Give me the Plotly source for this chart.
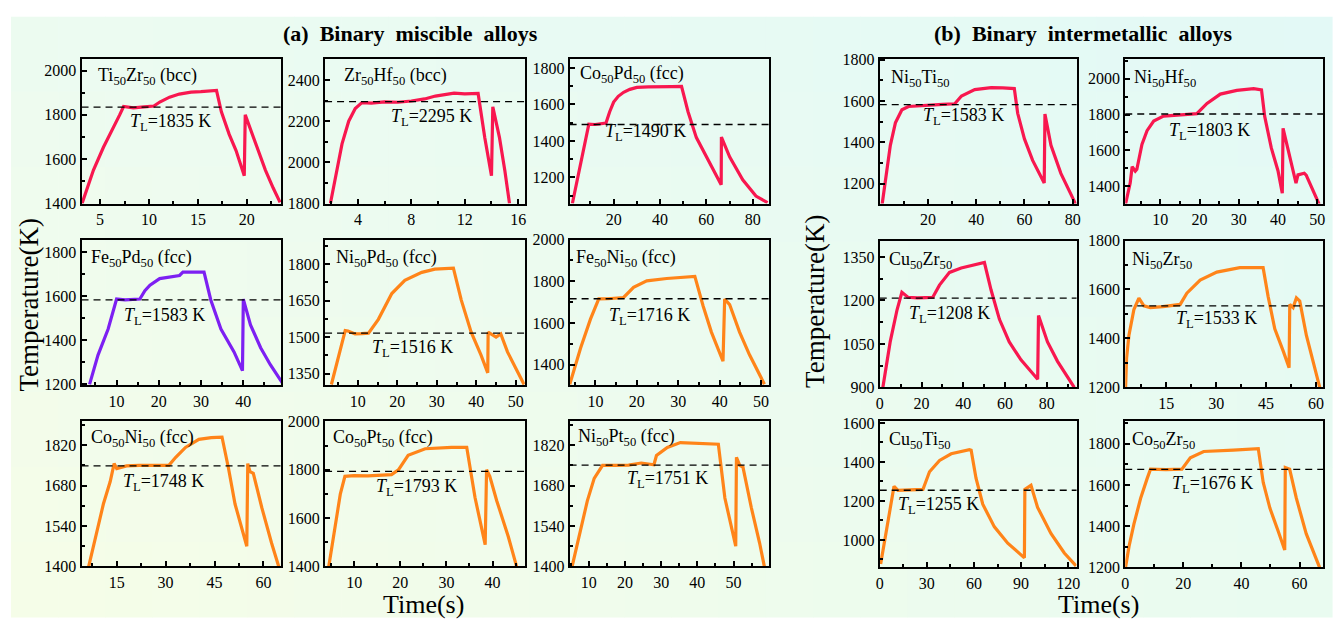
import plotly.graph_objects as go

W, H = 1336, 626
FONT = "Liberation Serif"
RED = "#f8174f"
PURPLE = "#7d20f2"
ORANGE = "#ff8419"

# ---------------- data (time in s, temperature in K) ----------------
t_TiZr = [3.15, 4.32, 5.34, 6.36, 7.0, 7.4, 8.4, 9.5, 10.5, 11.1, 12.1, 13.1, 14.3, 15.3, 16.3, 16.9, 17.4, 18.2, 18.9, 19.74, 19.84, 20.9, 21.9, 22.7, 23.4]
T_TiZr = [1400, 1551, 1654, 1741, 1800, 1838, 1832, 1836, 1840, 1858, 1880, 1894, 1903, 1905, 1906, 1910, 1814, 1712, 1639, 1525, 1800, 1668, 1551, 1470, 1405]

t_ZrHf = [1.94, 2.31, 2.81, 3.31, 3.8, 4.3, 5.0, 6.0, 7.0, 8.0, 9.0, 9.8, 10.5, 11.2, 12.0, 12.6, 13.0, 13.5, 14.0, 14.1, 14.6, 15.0, 15.35]
T_ZrHf = [1800, 1932, 2090, 2200, 2262, 2290, 2288, 2294, 2292, 2298, 2308, 2322, 2330, 2336, 2333, 2336, 2335, 2120, 1935, 2270, 2120, 1960, 1800]

t_CoPd = [2.2, 5.0, 9.3, 12, 14.5, 16.7, 18.3, 20, 22, 24.3, 27, 30, 35, 40, 45, 49.3, 52.1, 55.7, 60, 63, 66.4, 66.5, 70.1, 75.7, 81.4, 86.4]
T_CoPd = [1056, 1228, 1492, 1490, 1494, 1498, 1560, 1613, 1645, 1667, 1683, 1694, 1697, 1696, 1698, 1699, 1560, 1418, 1311, 1235, 1159, 1421, 1311, 1186, 1097, 1061]

t_FePd = [3.6, 5.6, 8.0, 10.0, 12, 14, 15.5, 16.7, 17.9, 20.2, 22.5, 24.9, 25.7, 28, 30.7, 32.3, 34.7, 37.8, 39.8, 40.0, 41.7, 44.1, 46.4, 49.2]
T_FePd = [1200, 1333, 1451, 1587, 1583, 1585, 1587, 1625, 1650, 1680, 1688, 1694, 1709, 1708, 1709, 1583, 1451, 1347, 1262, 1587, 1470, 1366, 1289, 1208]

t_NiPd = [3.3, 5.1, 6.8, 7.5, 9.3, 11, 12.7, 15.2, 18.6, 21.9, 26.2, 29.5, 33.7, 34.2, 36.2, 38.7, 41.2, 42.9, 43.0, 45, 46.2, 47.9, 50, 52.1]
T_NiPd = [1305, 1424, 1527, 1525, 1513, 1514, 1516, 1573, 1679, 1733, 1766, 1779, 1783, 1783, 1652, 1520, 1426, 1353, 1520, 1500, 1513, 1439, 1372, 1305]

t_FeNi = [3.8, 6.4, 8.8, 10.8, 13, 15, 16.8, 19.2, 22.4, 27.2, 31, 34, 36, 38, 40.8, 41.2, 42.4, 44.8, 47.2, 50.8]
T_FeNi = [1306, 1478, 1618, 1715, 1716, 1718, 1722, 1771, 1802, 1813, 1818, 1823, 1681, 1556, 1416, 1715, 1688, 1556, 1447, 1306]

t_CoNi = [6.4, 8.9, 10.9, 13, 14, 14.2, 15, 18, 21.9, 26, 31, 33.1, 36.1, 40.2, 44, 47.3, 49.3, 51.3, 54.9, 55.2, 55.9, 56.9, 59.5, 62.5, 64.7]
T_CoNi = [1400, 1526, 1616, 1694, 1750, 1756, 1739, 1748, 1750, 1749, 1750, 1778, 1812, 1840, 1846, 1848, 1739, 1616, 1470, 1756, 1728, 1722, 1604, 1481, 1400]

t_CoPt = [4.5, 5.9, 7.0, 8.0, 10, 13, 16, 18.1, 19.6, 21.7, 25.4, 31.1, 34.4, 36.2, 38.4, 38.7, 39.4, 40.9, 43.4, 45.2]
T_CoPt = [1400, 1578, 1699, 1773, 1776, 1775, 1778, 1780, 1800, 1860, 1887, 1893, 1893, 1685, 1490, 1800, 1773, 1672, 1524, 1400]

t_NiPt = [5.4, 7.7, 9.6, 11.5, 13.8, 17, 21, 24.5, 28, 28.7, 31.7, 35.3, 40, 45.8, 47.6, 49.5, 50.6, 50.8, 51.7, 52.6, 54.9, 57.2, 58.5]
T_NiPt = [1400, 1526, 1627, 1705, 1750, 1750, 1751, 1758, 1752, 1784, 1812, 1829, 1826, 1823, 1637, 1526, 1470, 1778, 1750, 1744, 1604, 1481, 1400]

t_NiTi = [1, 3.0, 4.4, 6.5, 9.2, 11.9, 16, 21, 26, 31.1, 33.9, 39.4, 46.2, 51, 55.8, 57.2, 60, 63.4, 68.2, 68.5, 71, 75.1, 81.3]
T_NiTi = [1100, 1264, 1386, 1495, 1558, 1574, 1578, 1582, 1584, 1587, 1625, 1656, 1665, 1664, 1661, 1541, 1417, 1313, 1203, 1538, 1386, 1250, 1100]

t_NiHf = [1.1, 2.3, 2.8, 3.6, 4.0, 5.3, 6.6, 8.3, 10.8, 14, 17, 19.3, 21.9, 25.3, 29.5, 33.8, 35.8, 36.6, 38.3, 40, 41.1, 41.3, 42.9, 44.6, 45.1, 46.7, 47.2, 48.8, 50.5]
T_NiHf = [1300, 1418, 1509, 1485, 1495, 1633, 1710, 1764, 1791, 1798, 1801, 1805, 1862, 1914, 1935, 1944, 1938, 1791, 1614, 1487, 1361, 1723, 1578, 1418, 1464, 1473, 1462, 1382, 1300]

t_CuZr = [1.5, 5, 8.3, 10.6, 13.5, 18, 22, 25.4, 28.6, 33.4, 39, 45, 50.1, 53.3, 57.3, 62, 67.6, 75.6, 76, 80.3, 85.1, 93.1]
T_CuZr = [900, 1057, 1168, 1228, 1211, 1209, 1210, 1211, 1253, 1297, 1312, 1322, 1331, 1236, 1135, 1057, 995, 928, 1148, 1057, 990, 900]

t_NiZr = [2.8, 3.1, 3.8, 5.3, 6.8, 8.3, 10.2, 14, 19.2, 21.2, 25.2, 30.2, 37.1, 44.1, 45.6, 47.6, 50.2, 51.9, 52.1, 53.1, 54.1, 55.1, 57.1, 59.1, 61.1]
T_NiZr = [1200, 1319, 1412, 1518, 1565, 1533, 1526, 1530, 1539, 1585, 1638, 1671, 1689, 1689, 1572, 1439, 1346, 1280, 1539, 1526, 1566, 1553, 1412, 1306, 1200]

t_CuTi = [0.6, 3.2, 6.3, 9.1, 11.6, 18, 27.5, 31.7, 38.1, 45.5, 57.1, 58.2, 61.3, 65.6, 73, 81.5, 92.1, 92.4, 96.3, 100.5, 109, 117.5, 125]
T_CuTi = [876, 1000, 1134, 1275, 1254, 1256, 1259, 1350, 1408, 1442, 1463, 1460, 1317, 1183, 1067, 983, 908, 1259, 1280, 1167, 1033, 933, 867]

t_CoZr = [0.1, 1.3, 3.0, 5.3, 7.5, 8.7, 14, 19.5, 22.4, 27, 37.2, 45.8, 47.5, 49.8, 52.6, 54.9, 55.1, 56.6, 58.9, 62.3, 66.9]
T_CoZr = [1200, 1302, 1411, 1536, 1630, 1677, 1675, 1677, 1732, 1763, 1770, 1777, 1613, 1488, 1378, 1284, 1685, 1677, 1536, 1364, 1200]

# liquidus temperatures (K)
TL_list = [1835, 2295, 1490, 1583, 1516, 1716, 1748, 1793, 1751, 1583, 1803, 1208, 1533, 1255, 1676]

names = ["Ti<sub>50</sub>Zr<sub>50</sub> (bcc)", "Zr<sub>50</sub>Hf<sub>50</sub> (bcc)", "Co<sub>50</sub>Pd<sub>50</sub> (fcc)",
         "Fe<sub>50</sub>Pd<sub>50</sub> (fcc)", "Ni<sub>50</sub>Pd<sub>50</sub> (fcc)", "Fe<sub>50</sub>Ni<sub>50</sub> (fcc)",
         "Co<sub>50</sub>Ni<sub>50</sub> (fcc)", "Co<sub>50</sub>Pt<sub>50</sub> (fcc)", "Ni<sub>50</sub>Pt<sub>50</sub> (fcc)",
         "Ni<sub>50</sub>Ti<sub>50</sub>", "Ni<sub>50</sub>Hf<sub>50</sub>", "Cu<sub>50</sub>Zr<sub>50</sub>",
         "Ni<sub>50</sub>Zr<sub>50</sub>", "Cu<sub>50</sub>Ti<sub>50</sub>", "Co<sub>50</sub>Zr<sub>50</sub>"]

series_t = [t_TiZr, t_ZrHf, t_CoPd, t_FePd, t_NiPd, t_FeNi, t_CoNi, t_CoPt, t_NiPt,
            t_NiTi, t_NiHf, t_CuZr, t_NiZr, t_CuTi, t_CoZr]
series_T = [T_TiZr, T_ZrHf, T_CoPd, T_FePd, T_NiPd, T_FeNi, T_CoNi, T_CoPt, T_NiPt,
            T_NiTi, T_NiHf, T_CuZr, T_NiZr, T_CuTi, T_CoZr]

x_ticks = [[5, 10, 15, 20], [4, 8, 12, 16], [20, 40, 60, 80],
           [10, 20, 30, 40], [10, 20, 30, 40, 50], [10, 20, 30, 40, 50],
           [15, 30, 45, 60], [10, 20, 30, 40], [10, 20, 30, 40, 50],
           [20, 40, 60, 80], [10, 20, 30, 40, 50], [0, 20, 40, 60, 80],
           [15, 30, 45, 60], [0, 30, 60, 90, 120], [0, 20, 40, 60]]
y_ticks = [[1400, 1600, 1800, 2000], [1800, 2000, 2200, 2400], [1200, 1400, 1600, 1800],
           [1200, 1400, 1600, 1800], [1350, 1500, 1650, 1800], [1400, 1600, 1800, 2000],
           [1400, 1540, 1680, 1820], [1400, 1600, 1800, 2000], [1400, 1540, 1680, 1820],
           [1200, 1400, 1600, 1800], [1400, 1600, 1800, 2000], [900, 1050, 1200, 1350],
           [1200, 1400, 1600, 1800], [1000, 1200, 1400, 1600], [1200, 1400, 1600, 1800]]

# ---------------- layout geometry (pixels) ----------------
colors = [RED, RED, RED, PURPLE, ORANGE, ORANGE, ORANGE, ORANGE, ORANGE,
          RED, RED, RED, ORANGE, ORANGE, ORANGE]
boxes = [(78, 52, 279, 201), (323, 52, 524, 201), (569, 52, 770, 201),
         (78, 238, 279, 388), (323, 238, 524, 388), (569, 238, 770, 388),
         (78, 425, 279, 574), (323, 425, 524, 574), (569, 425, 770, 574),
         (881, 52, 1079, 201), (1128, 52, 1327, 201),
         (881, 239, 1079, 390), (1128, 239, 1327, 390),
         (881, 425, 1079, 575), (1128, 425, 1327, 575)]
xranges = [[3.1, 23.53], [1.54, 16.5], [1.0, 87.2], [1.7, 49.0], [1.7, 52.3], [3.76, 52.0],
           [4.2, 65.5], [3.7, 47.0], [4.7, 59.9], [0, 81.6], [1.04, 51.5], [0, 94.2],
           [2.7, 62.1], [0, 125.3], [0, 68.1]]
yranges = [[1400, 2054], [1800, 2504], [1056, 1852], [1195, 1857], [1301, 1901], [1300, 2000],
           [1400, 1902], [1400, 2000], [1400, 1902], [1104, 1806], [1304, 2112], [900, 1407],
           [1200, 1800], [859, 1608], [1200, 1909]]
name_pos = [(93, 70), (340, 70), (577, 68), (86, 257), (332, 258), (573, 257),
            (86, 443), (329, 443), (575, 442), (890, 72), (1135, 72), (888, 260),
            (1133, 260), (888, 445), (1133, 445)]
tl_pos = [(125, 118), (387, 113), (603, 128), (119, 317), (368, 350), (607, 317),
          (118, 488), (372, 493), (625, 485), (923, 112), (1170, 127), (908, 315),
          (1177, 320), (897, 511), (1173, 490)]

fig = go.Figure()
layout = dict(width=W, height=H, margin=dict(l=0, r=0, t=0, b=0),
              paper_bgcolor="white", plot_bgcolor="rgba(0,0,0,0)",
              showlegend=False, font=dict(family=FONT, color="black"))
shapes = []
annotations = []

# background gradient (pale yellow-green bottom-left -> pale cyan top-right)
c_tl = (236, 251, 241); c_tr = (226, 249, 246); c_bl = (246, 253, 231); c_br = (233, 251, 240)
NX, NY = 28, 8
x_start, y_start = 7, 9
for i in range(NX):
    for j in range(NY):
        fx = (i + 0.5) / NX
        fy = (j + 0.5) / NY
        top = [c_tl[k] + (c_tr[k] - c_tl[k]) * fx for k in range(3)]
        bot = [c_bl[k] + (c_br[k] - c_bl[k]) * fx for k in range(3)]
        col = [round(top[k] + (bot[k] - top[k]) * fy) for k in range(3)]
        x0 = x_start + (W - x_start) * i / NX
        x1 = x_start + (W - x_start) * (i + 1) / NX
        y0 = y_start + (H - y_start) * j / NY
        y1 = y_start + (H - y_start) * (j + 1) / NY
        shapes.append(dict(type="rect", xref="paper", yref="paper", layer="below",
                           x0=x0 / W, x1=(x1 + 0.6) / W, y0=1 - (y1 + 0.6) / H, y1=1 - y0 / H,
                           line=dict(width=0), fillcolor="rgb(%d,%d,%d)" % tuple(col)))


def ann(px, py, text, size, xanchor="left", bold=False, angle=0):
    if bold:
        text = "<b>" + text + "</b>"
    annotations.append(dict(x=px / W, y=1 - py / H, xref="paper", yref="paper", text=text,
                            showarrow=False, xanchor=xanchor, yanchor="middle", textangle=angle,
                            font=dict(family=FONT, size=size, color="black")))


for i in range(15):
    n = i + 1
    xa = "x" if n == 1 else "x%d" % n
    ya = "y" if n == 1 else "y%d" % n
    x0, y0, x1, y1 = boxes[i]
    fig.add_trace(go.Scatter(x=series_t[i], y=series_T[i], mode="lines", xaxis=xa, yaxis=ya,
                             line=dict(color=colors[i], width=3.2), hoverinfo="skip"))
    xs = x_ticks[i]
    ys = y_ticks[i]
    common = dict(showline=True, linecolor="black", linewidth=2, mirror=True,
                  ticks="inside", ticklen=5, tickwidth=2, tickcolor="black",
                  showgrid=False, zeroline=False, tickmode="array",
                  tickfont=dict(family=FONT, size=16, color="black"))
    layout["xaxis" if n == 1 else "xaxis%d" % n] = dict(
        common, domain=[x0 / W, x1 / W], range=xranges[i], tickvals=xs,
        ticktext=[str(v) for v in xs], anchor=ya,
        minor=dict(ticks="inside", ticklen=3, tickwidth=1.6, tickcolor="black",
                   tickmode="linear", tick0=xs[0], dtick=(xs[1] - xs[0]) / 2))
    layout["yaxis" if n == 1 else "yaxis%d" % n] = dict(
        common, domain=[1 - y1 / H, 1 - y0 / H], range=yranges[i], tickvals=ys,
        ticktext=[str(v) for v in ys], anchor=xa,
        minor=dict(ticks="inside", ticklen=3, tickwidth=1.6, tickcolor="black",
                   tickmode="linear", tick0=ys[0], dtick=(ys[1] - ys[0]) / 2))
    shapes.append(dict(type="line", xref=xa + " domain", yref=ya, x0=0, x1=1,
                       y0=TL_list[i], y1=TL_list[i],
                       line=dict(color="black", width=1.3, dash="7px,5px")))
    ann(name_pos[i][0], name_pos[i][1], names[i], 18)
    ann(tl_pos[i][0], tl_pos[i][1], "<i>T</i><sub>L</sub>=%d K" % TL_list[i], 18)

ann(409, 26, "(a)\u00a0 Binary\u00a0 miscible\u00a0 alloys", 22, xanchor="center", bold=True)
ann(1086, 26, "(b)\u00a0 Binary\u00a0 intermetallic\u00a0 alloys", 22, xanchor="center", bold=True)
ann(25, 305, "Temperature(K)", 27, xanchor="center", angle=-90)
ann(816, 301, "Temperature(K)", 27, xanchor="center", angle=-90)
ann(422, 613, "Time(s)", 26, xanchor="center")
ann(1101, 613, "Time(s)", 26, xanchor="center")

layout["shapes"] = shapes
layout["annotations"] = annotations
fig.update_layout(**layout)
fig.write_html("out.html")
